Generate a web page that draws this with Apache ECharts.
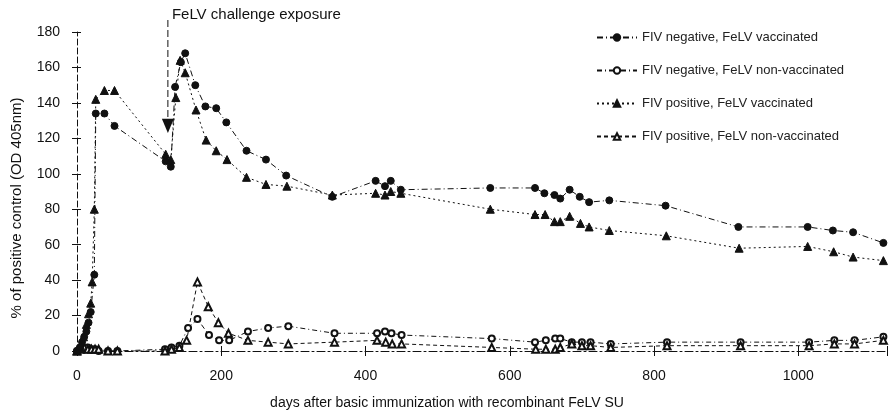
<!DOCTYPE html>
<html>
<head>
<meta charset="utf-8">
<script src="https://cdn.jsdelivr.net/npm/echarts@6/dist/echarts.min.js"></script>
<style>
html,body{margin:0;padding:0;background:#fff;}
#c{width:890px;height:413px;}
</style>
</head>
<body>
<div id="c"></div>
<script>
// ---- data ----
var seriesNames = [
  'FIV negative, FeLV vaccinated',
  'FIV negative, FeLV non-vaccinated',
  'FIV positive, FeLV vaccinated',
  'FIV positive, FeLV non-vaccinated'
];
var negVacc = [[0,0],[4,2],[7,5],[10,8],[13,11],[16,16],[19,22],[24,43],[26,134],[38,134],[52,127],[123,107],[130,104],[136,149],[144,163],[150,168],[164,150],[178,138],[193,137],[207,129],[235,113],[262,108],[290,99],[354,87],[414,96],[427,93],[435,96],[449,91],[573,92],[635,92],[648,89],[662,88],[670,86],[683,91],[697,87],[710,84],[738,85],[816,82],[917,70],[1013,70],[1048,68],[1076,67],[1118,61]];
var negNonVacc = [[0,0],[5,1],[10,1],[15,2],[20,1],[25,1],[30,0],[43,0],[56,0],[122,1],[131,2],[142,3],[154,13],[167,18],[183,9],[197,6],[211,6],[237,11],[265,13],[293,14],[357,10],[416,10],[427,11],[436,10],[450,9],[575,7],[635,5],[650,6],[663,7],[670,7],[686,5],[700,5],[712,5],[740,4],[818,5],[920,5],[1015,5],[1050,6],[1078,6],[1118,8]];
var posVacc = [[0,0],[5,3],[9,8],[13,15],[16,21],[19,27],[21,39],[24,80],[26,142],[38,147],[52,147],[123,111],[130,108],[137,143],[143,164],[150,157],[165,136],[179,119],[193,113],[208,108],[235,98],[262,94],[291,93],[354,88],[414,89],[427,88],[435,90],[449,89],[573,80],[635,77],[649,77],[662,73],[670,73],[683,76],[698,72],[710,70],[738,68],[817,65],[918,58],[1013,59],[1049,56],[1076,53],[1118,51]];
var posNonVacc = [[0,0],[5,1],[10,2],[15,1],[20,1],[25,1],[30,1],[43,0],[56,0],[122,0],[131,1],[142,2],[152,6],[167,39],[182,25],[196,16],[210,10],[237,6],[265,5],[293,4],[357,5],[416,6],[428,5],[437,4],[450,4],[575,2],[636,1],[650,1],[663,1],[670,2],[686,4],[700,3],[712,3],[740,2],[818,3],[920,3],[1015,3],[1050,4],[1078,4],[1118,6]];
var xTicks = [0,200,400,600,800,1000];
var yTicks = [0,20,40,60,80,100,120,140,160,180];
var challengeDay = 126;
var challengeLabel = 'FeLV challenge exposure';
var xTitle = 'days after basic immunization with recombinant FeLV SU';
var yTitle = '% of positive control (OD 405nm)';

var FONT = '"Liberation Sans", Arial, Helvetica, sans-serif';
var INK = '#111';

var chart = echarts.init(document.getElementById('c'), null, {renderer:'canvas'});

function mkSeries(name, data, symbol, size, dash, filled){
  return {
    name: name, type: 'line', data: data,
    symbol: symbol, symbolSize: size,
    showSymbol: true, showAllSymbol: true,
    itemStyle: {color: INK, borderColor: INK, borderWidth: 1},
    lineStyle: {color: INK, width: 1, type: dash},
    emphasis: {disabled: true},
    animation: false,
    z: filled ? 3 : 2
  };
}

var xMin = 0, xMax = 1123, yMin = 0, yMax = 180;

var option = {
  backgroundColor: '#fff',
  animation: false,
  textStyle: {fontFamily: FONT},
  grid: {left: 77, right: 0, top: 32, bottom: 62, containLabel: false},
  legend: {
    orient: 'vertical', left: 591, top: 26,
    itemWidth: 40, itemHeight: 8, itemGap: 20,
    textStyle: {fontSize: 13, color: '#222', fontFamily: FONT},
    data: seriesNames
  },
  xAxis: [{
    type: 'value', min: xMin, max: xMax, interval: 200,
    axisLine: {show: true, lineStyle: {color: INK, width: 1, type: [8,3,2,3]}},
    axisTick: {show: true, length: 5, lineStyle: {color: INK}},
    axisLabel: {fontSize: 14, color: INK, margin: 18, fontFamily: FONT,
      formatter: function(v){ return xTicks.indexOf(v) >= 0 ? String(v) : ''; }},
    splitLine: {show: false}
  },{
    type: 'value', min: xMin, max: xMax, interval: 200, position: 'bottom',
    axisLine: {show: false},
    axisTick: {show: true, inside: true, length: 5, lineStyle: {color: INK}},
    axisLabel: {show: false}, splitLine: {show: false}
  }],
  yAxis: [{
    type: 'value', min: yMin, max: yMax, interval: 20,
    axisLine: {show: true, lineStyle: {color: INK, width: 1, type: [6,3]}},
    axisTick: {show: true, length: 5, lineStyle: {color: INK}},
    axisLabel: {fontSize: 14, color: INK, margin: 17, fontFamily: FONT,
      formatter: function(v){ return yTicks.indexOf(v) >= 0 ? String(v) : ''; }},
    splitLine: {show: false}
  },{
    type: 'value', min: yMin, max: yMax, interval: 20, position: 'left', offset: 0,
    axisLine: {show: false},
    axisTick: {show: true, inside: true, length: 4, lineStyle: {color: INK}},
    axisLabel: {show: false}, splitLine: {show: false}
  }],
  series: [
    mkSeries(seriesNames[0], negVacc, 'circle', 7, [6,3,1,3], true),
    mkSeries(seriesNames[1], negNonVacc, 'emptyCircle', 6, [5,3,1,3], false),
    mkSeries(seriesNames[2], posVacc, 'triangle', 8, [2,3], true),
    mkSeries(seriesNames[3], posNonVacc, 'emptyTriangle', 7, [4,3], false)
  ]
};
chart.setOption(option);

// annotation: challenge exposure arrow, placed through the axis scales
var pTip = chart.convertToPixel({gridIndex: 0}, [challengeDay, 123]);
var pBase = chart.convertToPixel({gridIndex: 0}, [challengeDay, 131]);
chart.setOption({
  graphic: [
    {type: 'line', shape: {x1: pBase[0], y1: 20, x2: pBase[0], y2: pBase[1]},
     style: {stroke: INK, lineWidth: 1, lineDash: [7,3]}, silent: true},
    {type: 'polygon', shape: {points: [[pBase[0]-6, pBase[1]], [pBase[0]+6, pBase[1]], [pTip[0], pTip[1]]]},
     style: {fill: INK}, silent: true},
    {type: 'text', left: pBase[0] + 4, top: 7,
     style: {text: challengeLabel, font: '15px ' + FONT, fill: INK}, silent: true},
    {type: 'text', x: 447, y: 403,
     style: {text: xTitle, font: '14px ' + FONT, fill: INK, textAlign: 'center', textVerticalAlign: 'middle'}, silent: true},
    {type: 'text', x: 17, y: 208, rotation: Math.PI/2,
     style: {text: yTitle, font: '15px ' + FONT, fill: INK, textAlign: 'center', textVerticalAlign: 'middle'}, silent: true}
  ]
});
</script>
</body>
</html>
